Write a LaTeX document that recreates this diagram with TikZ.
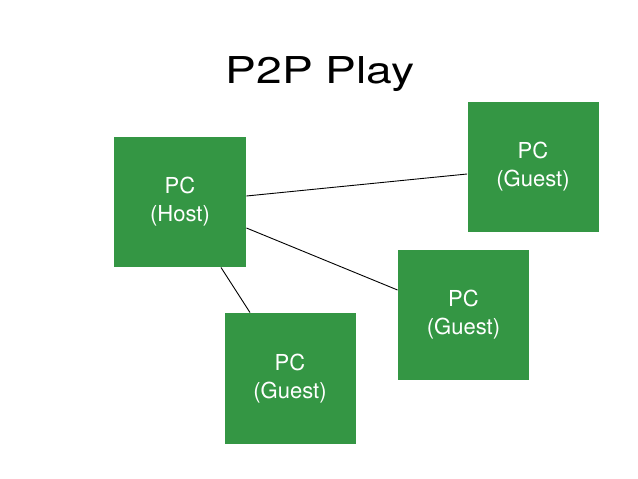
\documentclass[tikz,border=0pt]{standalone}
\usepackage{fontspec}
\setmainfont{TeX Gyre Heros}
\definecolor{pcgreen}{RGB}{52,150,68}
\tikzset{every picture/.style={line width=0.9pt}}
\tikzset{pcbox/.style={fill=pcgreen, draw=none, text=white, align=center, inner sep=0pt, minimum width=131pt, minimum height=130pt, font=\fontsize{22}{28}\selectfont}}

\begin{document}
\begin{tikzpicture}[x=1pt,y=1pt,yscale=-1,xscale=1]
     %set diagram size to 638 x 479
     \useasboundingbox (0,0) rectangle (638,479);
     % Title Node
     \node [anchor=base, font=\fontsize{37}{40}\selectfont] (title) at (320,83) {\scalebox{1.25}[1]{P2P Play}};
     %Shape: Square [id:host]
     \node [pcbox, minimum width=132pt] (host) at (180,202) {PC\\(Host)};
     %Shape: Square [id:guestA]
     \node [pcbox] (guestA) at (533,167) {PC\\(Guest)};
     %Shape: Square [id:guestB]
     \node [pcbox] (guestB) at (463.5,315) {PC\\(Guest)};
     %Shape: Square [id:guestC]
     \node [pcbox, minimum height=131pt] (guestC) at (290,378.5) {PC\\(Guest)};
     %Straight Lines
     \draw    ([yshift=-6pt]host.east) -- ([yshift=7pt]guestA.west) ;
     %Straight Lines
     \draw    ([yshift=26pt]host.east) -- ([yshift=-25pt]guestB.west) ;
     %Straight Lines
     \draw    ([xshift=41pt]host.south) -- ([xshift=-40pt]guestC.north) ;
\end{tikzpicture}
\end{document}
